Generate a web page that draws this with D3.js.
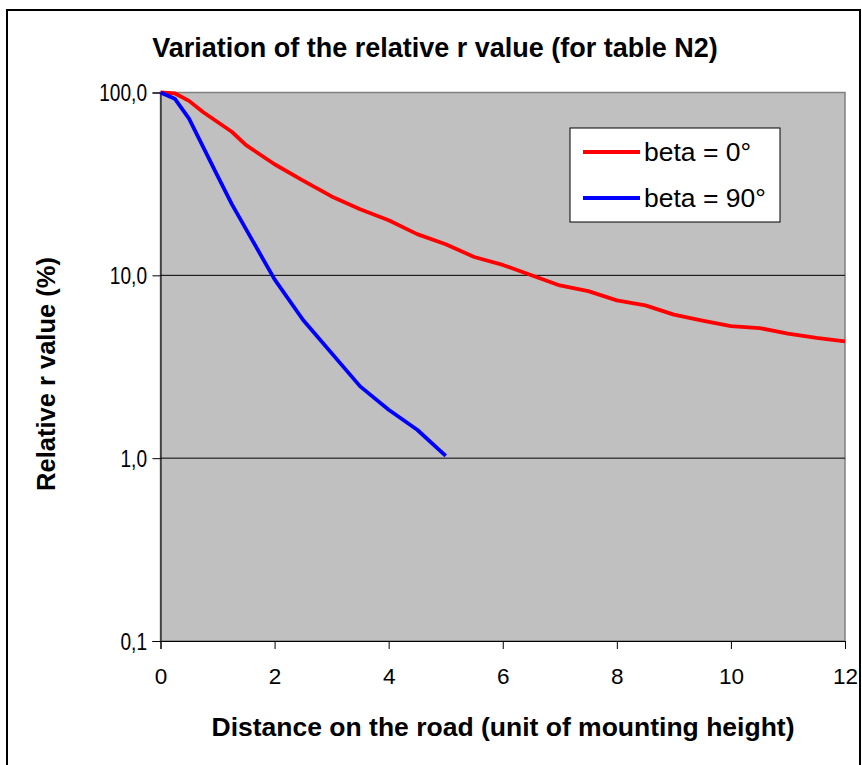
<!DOCTYPE html>
<html><head><meta charset="utf-8">
<script src="https://cdn.jsdelivr.net/npm/d3@7"></script>
<style>body{margin:0;background:#fff}svg{display:block}text{font-family:Arial,"Liberation Sans",sans-serif}</style>
</head><body>
<script>
const titleText = "Variation of the relative r value (for table N2)";
const xTitle = "Distance on the road (unit of mounting height)";
const yTitle = "Relative r value (%)";
const seriesNames = ["beta = 0°", "beta = 90°"];
const seriesColors = ["#ff0000", "#0000ff"];
const xTicks = [0, 2, 4, 6, 8, 10, 12];
const yTicks = [0.1, 1, 10, 100];
const yTickLabels = ["0,1", "1,0", "10,0", "100,0"];
const x0 = [0, 0.25, 0.5, 0.75, 1, 1.25, 1.5, 2, 2.5, 3, 3.5, 4, 4.5, 5, 5.5, 6, 7, 7.5, 8, 8.5, 9, 9.5, 10, 10.5, 11, 11.5, 12];
const y0 = [100, 99, 90, 78, 69, 61, 51.5, 40.5, 33, 27, 23, 20, 16.8, 14.8, 12.6, 11.4, 8.8, 8.2, 7.3, 6.85, 6.1, 5.66, 5.27, 5.15, 4.8, 4.55, 4.35];
const x90 = [0, 0.25, 0.5, 1, 1.25, 2, 2.5, 3.5, 4, 4.5, 5];
const y90 = [100, 92.5, 72, 35, 24.5, 9.5, 5.7, 2.47, 1.84, 1.43, 1.03];

const W = 862, H = 765;
const svg = d3.select("body").append("svg").attr("width", W).attr("height", H);
const L = 160.5, R = 845, T = 92.5, B = 641;
const x = d3.scaleLinear().domain([0, 12]).range([L, R]);
const y = d3.scaleLog().domain([0.1, 100]).range([B, T]);
const FF = "Arial, 'Liberation Sans', sans-serif";

// outer frame
svg.append("rect").attr("x", 7).attr("y", 10).attr("width", 853).attr("height", 770)
  .attr("fill", "#fff").attr("stroke", "#000").attr("stroke-width", 2);

// plot area
svg.append("rect").attr("x", L).attr("y", T).attr("width", R - L).attr("height", B - T)
  .attr("fill", "#c0c0c0").attr("stroke", "#808080").attr("stroke-width", 1.5);

// gridlines
svg.append("g").selectAll("line").data(yTicks.filter(d => d > 0.1 && d < 100)).join("line")
  .attr("x1", L).attr("x2", R).attr("y1", d => y(d)).attr("y2", d => y(d))
  .attr("stroke", "#000").attr("stroke-width", 1);

// axes
const yAxis = d3.axisLeft(y).tickValues(yTicks).tickFormat((d, i) => yTickLabels[i]).tickSizeOuter(0).tickSize(8).tickPadding(6);
const gy = svg.append("g").attr("transform", `translate(${L},0)`).call(yAxis);
gy.selectAll("text").attr("font-size", 23).attr("fill", "#000").attr("font-family", FF)
  .attr("x", 0).attr("dy", "0.35em").attr("transform", "translate(-13.5,0) scale(0.83,1)");
gy.selectAll("line,path").attr("stroke", "#000");

const xAxis = d3.axisBottom(x).tickValues(xTicks).tickFormat(d3.format("d")).tickSizeOuter(0).tickSize(8).tickPadding(19);
const gx = svg.append("g").attr("transform", `translate(0,${B})`).call(xAxis);
gx.selectAll("text").attr("font-size", 22.5).attr("fill", "#000").attr("font-family", FF);
gx.selectAll("line,path").attr("stroke", "#000");

// lines
const line = d3.line().x(d => x(d[0])).y(d => y(d[1]));
const series = [x0.map((v, i) => [v, y0[i]]), x90.map((v, i) => [v, y90[i]])];
svg.append("g").selectAll("path").data(series).join("path")
  .attr("d", line).attr("fill", "none").attr("stroke", (d, i) => seriesColors[i])
  .attr("stroke-width", 3.8).attr("stroke-linejoin", "round");

// titles
svg.append("text").attr("x", 435).attr("y", 57).attr("text-anchor", "middle")
  .attr("font-size", 27).attr("font-weight", "bold").text(titleText);
svg.append("text").attr("x", 503).attr("y", 736).attr("text-anchor", "middle")
  .attr("font-size", 26.5).attr("font-weight", "bold").text(xTitle);
svg.append("text").attr("transform", "translate(55,374) rotate(-90)").attr("text-anchor", "middle")
  .attr("font-size", 25.5).attr("font-weight", "bold").text(yTitle);

// legend
const lg = svg.append("g");
lg.append("rect").attr("x", 570).attr("y", 128).attr("width", 210).attr("height", 94)
  .attr("fill", "#fff").attr("stroke", "#000").attr("stroke-width", 1);
const items = lg.selectAll("g.it").data(seriesNames).join("g").attr("class", "it")
  .attr("transform", (d, i) => `translate(0,${152 + i * 46})`);
items.append("line").attr("x1", 583).attr("x2", 640).attr("y1", 0).attr("y2", 0)
  .attr("stroke", (d, i) => seriesColors[i]).attr("stroke-width", 3.8);
items.append("text").attr("x", 644).attr("y", 9).attr("font-size", 26.5).text(d => d);
</script>
</body></html>
